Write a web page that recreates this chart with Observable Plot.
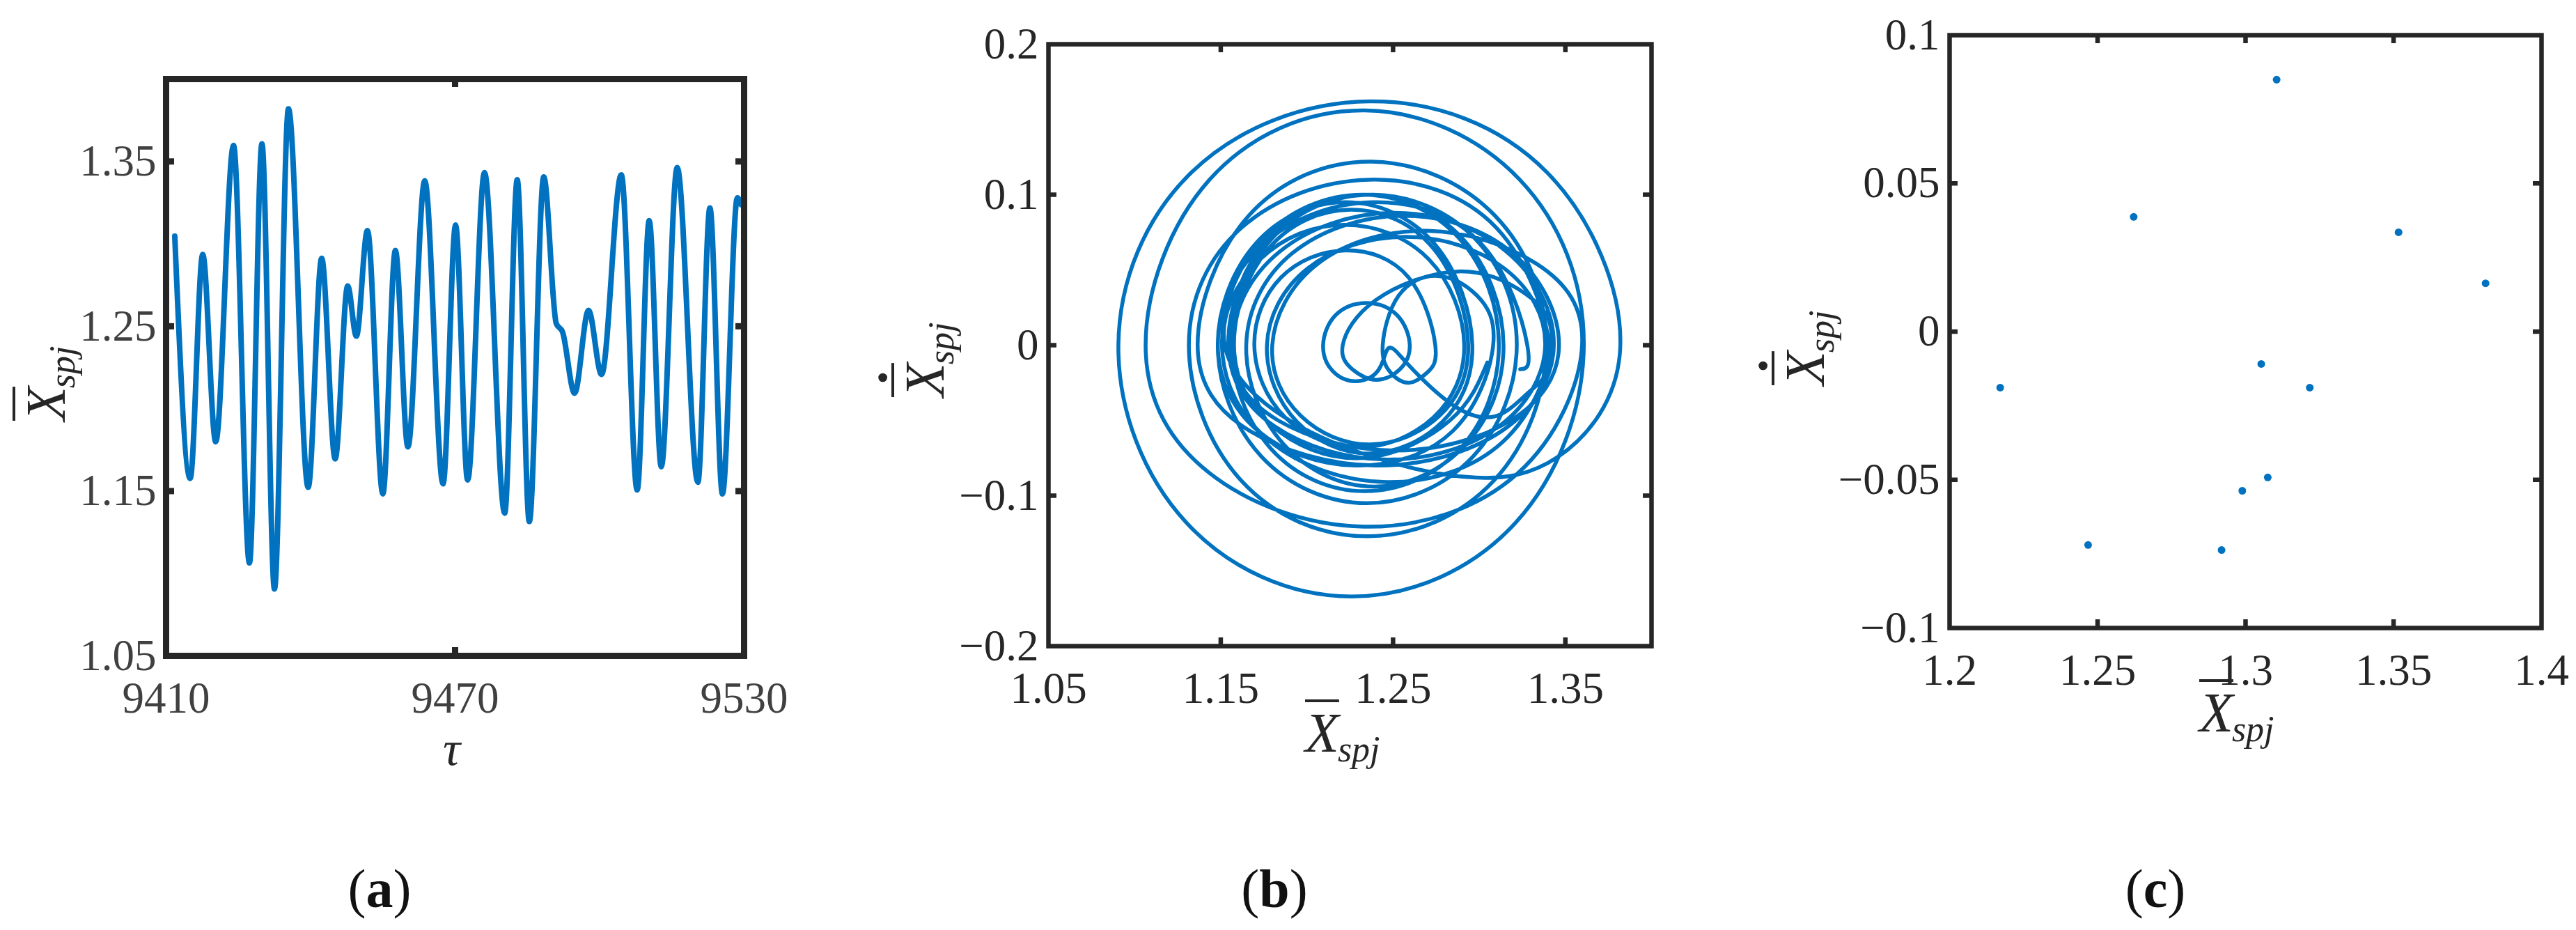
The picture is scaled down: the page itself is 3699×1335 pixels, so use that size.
<!DOCTYPE html>
<html><head><meta charset="utf-8">
<script src="https://cdn.jsdelivr.net/npm/d3@7"></script>
<script src="https://cdn.jsdelivr.net/npm/@observablehq/plot@0.6"></script>
<style>
html,body{margin:0;background:#fff}
#page{position:relative;width:3699px;height:1335px;overflow:hidden;font-family:"Liberation Serif",serif}
#page svg{position:absolute;overflow:visible}
.lab{position:absolute;white-space:nowrap;font-style:italic;line-height:1;transform-origin:0 0}
.x{font-size:80px;position:relative;display:inline-block;text-decoration:overline;text-decoration-thickness:4px}
.s{font-size:52px;position:relative;top:14px;margin-left:-2px}
.d{position:absolute;left:14px;top:-38px;font-size:84px;font-style:normal;font-weight:bold}
.cap{position:absolute;font-size:78px;transform:translate(-50%,-50%);line-height:1;color:#111}
.cap b{font-weight:bold}
</style></head><body><div id="page"></div>
<script>
const seriesTau=[9411.8,9415.0,9417.6,9420.3,9424.0,9427.3,9429.9,9432.5,9435.4,9439.5,9442.3,9445.1,9447.7,9449.5,9451.8,9455.0,9457.6,9460.2,9463.7,9467.5,9470.1,9472.6,9476.1,9480.3,9482.9,9485.4,9488.4,9491.0,9492.3,9494.8,9497.7,9500.4,9504.5,9507.8,9510.3,9512.8,9516.1,9520.4,9522.9,9525.5,9528.6,9529.4];
const seriesX=[1.3047,1.1577,1.2936,1.1799,1.3597,1.1064,1.3607,1.0906,1.3819,1.1523,1.2913,1.1695,1.2745,1.244,1.3081,1.1483,1.296,1.1768,1.3383,1.1544,1.3114,1.1567,1.3433,1.1366,1.3389,1.1315,1.3406,1.2517,1.2466,1.2094,1.2597,1.2208,1.3419,1.1507,1.3141,1.1648,1.3463,1.1554,1.3218,1.1483,1.3279,1.3238];
const phaseX=[1.3047,1.283,1.2312,1.1792,1.1577,
1.1776,1.2256,1.2736,1.2936,
1.2769,1.2367,1.1965,1.1799,
1.2062,1.2698,1.3334,1.3597,
1.3225,1.233,1.1435,1.1064,
1.1435,1.2335,1.3235,1.3607,
1.3211,1.2256,1.1301,1.0906,
1.1332,1.2362,1.3392,1.3819,
1.346,1.298,1.249,1.19,1.1523,
1.1728,1.2218,1.2708,1.2913,
1.2734,1.2304,1.1874,1.1695,
1.185,1.222,1.259,1.2745,
1.27,1.2592,1.2484,1.244,
1.2533,1.276,1.2987,1.3081,
1.2847,1.2282,1.1717,1.1483,
1.1699,1.2221,1.2743,1.296,
1.2785,1.2364,1.1943,1.1768,
1.2004,1.2575,1.3146,1.3383,
1.3113,1.2463,1.1813,1.1544,
1.1774,1.2329,1.2884,1.3114,
1.2887,1.234,1.1793,1.1567,
1.184,1.25,1.316,1.3433,
1.3131,1.24,1.1669,1.1366,
1.1662,1.2377,1.3092,1.3389,
1.3085,1.2352,1.1619,1.1315,
1.162,1.236,1.31,1.3406,
1.33,1.31,1.285,1.2605,1.2517,1.2466,
1.2412,1.228,1.2148,1.2094,
1.2167,1.2345,1.2523,1.2597,
1.254,1.2402,1.2264,1.2208,
1.24,1.288,1.327,1.3419,
1.3139,1.2463,1.1787,1.1507,
1.1746,1.2324,1.2902,1.3141,
1.2922,1.2394,1.1866,1.1648,
1.1914,1.2555,1.3196,1.3463,
1.3183,1.2508,1.1833,1.1554,
1.1798,1.2386,1.2974,1.3218,
1.2964,1.235,1.1736,1.1483,
1.1745,1.238,1.3015,1.3279,
1.3238];
const phaseY=[-0.0115,-0.05,-0.075,-0.053,0,
0.064,0.09,0.064,0,
-0.047,-0.066,-0.047,0,
0.054,0.076,0.054,0,
-0.085,-0.1206,-0.085,0,
0.11,0.156,0.11,0,
-0.118,-0.167,-0.118,0,
0.115,0.162,0.115,0,
-0.074,-0.088,-0.078,-0.05,0,
0.057,0.08,0.057,0,
-0.048,-0.068,-0.048,0,
0.045,0.063,0.045,0,
-0.018,-0.025,-0.018,0,
0.033,0.046,0.033,0,
-0.057,-0.08,-0.057,0,
0.067,0.095,0.067,0,
-0.051,-0.072,-0.051,0,
0.051,0.072,0.051,0,
-0.054,-0.076,-0.054,0,
0.071,0.1,0.071,0,
-0.069,-0.097,-0.069,0,
0.062,0.088,0.062,0,
-0.057,-0.08,-0.057,0,
0.086,0.122,0.086,0,
-0.09,-0.127,-0.09,0,
0.078,0.11,0.078,0,
-0.03,-0.047,-0.04,-0.015,-0.004,-0.003,
-0.017,-0.024,-0.017,0,
0.02,0.028,0.02,0,
-0.016,-0.023,-0.016,0,
0.03,0.049,0.034,0,
-0.064,-0.091,-0.064,0,
0.071,0.1,0.071,0,
-0.066,-0.094,-0.066,0,
0.061,0.086,0.061,0,
-0.05,-0.07,-0.05,0,
0.071,0.1,0.071,0,
-0.074,-0.105,-0.074,0,
0.067,0.095,0.067,0,
-0.016];
const mapX=[1.2171,1.2468,1.2622,1.2919,1.2989,1.3053,1.3075,1.3105,1.3217,1.3517,1.3811];
const mapY=[-0.0189,-0.072,0.0387,-0.0737,-0.0537,-0.0109,-0.0492,0.085,-0.0189,0.0335,0.0163];
const lineColor="#0072bf";
const page=document.getElementById("page");

function panel({box,xDomain,yDomain,xTicks,yTicks,xInner,yInner,xFmt,yFmt,marks,frameW,textColor}){
  const pad=220;
  const w=box[1]-box[0], h=box[3]-box[2];
  const tick=12;
  const p=Plot.plot({
    width:w+2*pad,height:h+2*pad,marginLeft:pad,marginRight:pad,marginTop:pad,marginBottom:pad,
    x:{domain:xDomain},y:{domain:yDomain},
    style:{fontFamily:"Liberation Serif",fontSize:"63px",background:"transparent"},
    marks:[
      ...marks,
      Plot.tickX(xInner,{x:d=>d,insetTop:h-tick,stroke:"#262626",strokeWidth:frameW}),
      Plot.tickX(xInner,{x:d=>d,insetBottom:h-tick,stroke:"#262626",strokeWidth:frameW}),
      Plot.tickY(yInner,{y:d=>d,insetRight:w-tick,stroke:"#262626",strokeWidth:frameW}),
      Plot.tickY(yInner,{y:d=>d,insetLeft:w-tick,stroke:"#262626",strokeWidth:frameW}),
      Plot.frame({stroke:"#262626",strokeWidth:frameW}),
      Plot.axisX({ticks:xTicks,tickSize:0,tickPadding:37,label:null,tickFormat:xFmt,fill:textColor,fontSize:63}),
      Plot.axisY({ticks:yTicks,tickSize:0,tickPadding:14,label:null,tickFormat:yFmt,fill:textColor,fontSize:63})
    ]
  });
  p.style.left=(box[0]-pad)+"px";p.style.top=(box[2]-pad)+"px";
  page.appendChild(p);
}
const fmt=d=>{const s=String(Math.abs(d));return (d<0?"\u2212":"")+s;};

panel({box:[238,1068,113,941],xDomain:[9410,9530],yDomain:[1.05,1.4],
  xTicks:[9410,9470,9530],yTicks:[1.05,1.15,1.25,1.35],xInner:[9470],yInner:[1.15,1.25,1.35],
  xFmt:fmt,yFmt:fmt,frameW:9,textColor:"#404040",
  marks:[Plot.line(seriesTau.map((t,i)=>({t,v:seriesX[i]})),{x:"t",y:"v",stroke:lineColor,strokeWidth:8,curve:"monotone-x"})]});
panel({box:[1505,2371,63,927],xDomain:[1.05,1.4],yDomain:[-0.2,0.2],
  xTicks:[1.05,1.15,1.25,1.35],yTicks:[-0.2,-0.1,0,0.1,0.2],xInner:[1.15,1.25,1.35],yInner:[-0.1,0,0.1],
  xFmt:fmt,yFmt:fmt,frameW:6.5,textColor:"#262626",
  marks:[Plot.line(phaseX.map((x,i)=>({x,y:phaseY[i]})),{x:"x",y:"y",stroke:lineColor,strokeWidth:5.5,curve:"natural"})]});
panel({box:[2799,3649,50,901],xDomain:[1.2,1.4],yDomain:[-0.1,0.1],
  xTicks:[1.2,1.25,1.3,1.35,1.4],yTicks:[-0.1,-0.05,0,0.05,0.1],xInner:[1.25,1.3,1.35],yInner:[-0.05,0,0.05],
  xFmt:fmt,yFmt:fmt,frameW:6.5,textColor:"#262626",
  marks:[Plot.dot(mapX.map((x,i)=>({x,y:mapY[i]})),{x:"x",y:"y",r:5.5,fill:lineColor})]});

function xLabel(cx,top,dot,rot,color){
  const d=document.createElement("div");d.className="lab";d.style.color=color;
  d.innerHTML=`<span class="x">X${dot?'<span class="d">\u02D9</span>':''}</span><span class="s">spj</span>`;
  page.appendChild(d);
  d.style.left=cx+"px";d.style.top=top+"px";
  if(rot)d.style.transform="rotate(-90deg)";
}
xLabel(26,604,false,true,"#262626");
xLabel(1874,1012,false,false,"#262626");
xLabel(1288,570,true,true,"#262626");
xLabel(3158,983,false,false,"#262626");
xLabel(2552,553,true,true,"#262626");

const tau=document.createElement("div");tau.className="lab";tau.textContent="\u03C4";
tau.style.cssText="left:636px;top:1040px;font-size:70px;color:#262626";page.appendChild(tau);

[["a",545,1276],["b",1830,1276],["c",3095,1276]].forEach(([t,x,y])=>{
  const c=document.createElement("div");c.className="cap";c.innerHTML=`(<b>${t}</b>)`;
  c.style.left=x+"px";c.style.top=y+"px";page.appendChild(c);
});
</script></body></html>
